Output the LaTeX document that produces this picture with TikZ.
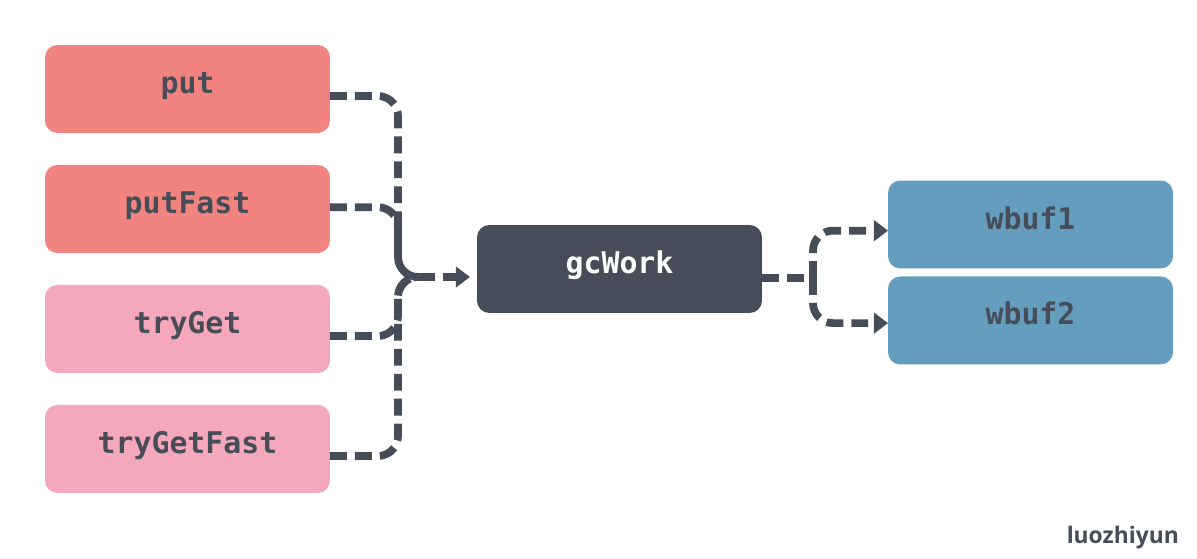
\documentclass[tikz,border=0pt]{standalone}
\usepackage{fontspec}
\setmainfont{Open Sans}
\setmonofont{DejaVu Sans Mono}
\usepackage{xcolor}
\usetikzlibrary{positioning, arrows.meta, calc}

\definecolor{putred}{HTML}{F1847F}
\definecolor{getpink}{HTML}{F5A8BC}
\definecolor{slate}{HTML}{464D59}
\definecolor{bufblue}{HTML}{659DBE}

\tikzset{
	box/.style={rounded corners=7pt, minimum width=5.7cm, minimum height=1.76cm,
		inner sep=0pt, outer sep=0pt, text height=0.45cm, text depth=0.27cm,
		text=slate, font=\ttfamily\bfseries\fontsize{17}{20}\selectfont},
	link/.style={draw=slate, line width=4.4pt, dash pattern=on 9.6pt off 4.6pt,
		rounded corners=0.4cm},
	tip/.style={-{Triangle[length=8pt, width=11.5pt]}}
}

\begin{document}
\begin{tikzpicture}[x=0.02cm, y=-0.02cm]
			\useasboundingbox (0,0) rectangle (1197,558);

			% left column
			\node[box, fill=putred] (put) at (187.5,89) {put};
			\node[box, fill=putred, below=0.64cm of put] (putFast) {putFast};
			\node[box, fill=getpink, below=0.64cm of putFast] (tryGet) {tryGet};
			\node[box, fill=getpink, below=0.64cm of tryGet] (tryGetFast) {tryGetFast};

			% middle and right
			\node[box, fill=slate, text=white] (gcWork) at (619.5,269) {gcWork};
			\node[box, fill=bufblue] (wbuf1) at (1030.5,224.5) {wbuf1};
			\node[box, fill=bufblue, below=0.16cm of wbuf1] (wbuf2) {wbuf2};

			\node[font=\bfseries\fontsize{13}{15}\selectfont, text=slate, anchor=east] (author) at (1185,538) {luozhiyun};

			\coordinate (joinL) at (398,277);
			\coordinate (joinL2) at (418,277);
			\coordinate (joinR) at (813,278);

			\begin{scope}
				\foreach \src/\dy in {put/-4pt, putFast/1pt, tryGet/-4pt, tryGetFast/-4pt}
				{
					\draw[link] ([yshift=\dy]\src.east) -| (joinL) -- (joinL2);
				}
				\draw[link, tip, shorten >=4pt] (joinL2) -- (gcWork.west |- joinL2);
			\end{scope}

			\begin{scope}
				\draw[link] (gcWork.east |- joinR) -- (joinR);
				\draw[link, tip] (joinR) |- ([yshift=-3.5pt]wbuf1.west);
				\draw[link, tip] (joinR) |- ([yshift=-1.5pt]wbuf2.west);
			\end{scope}
		\end{tikzpicture}
\end{document}
